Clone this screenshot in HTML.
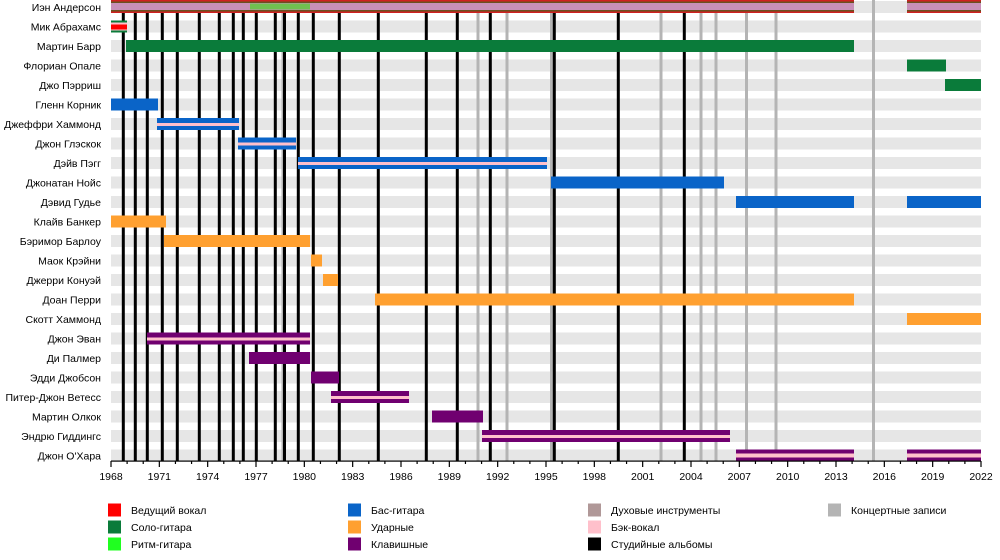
<!DOCTYPE html>
<html><head><meta charset="utf-8"><style>
body{margin:0;background:#fff;}
svg{display:block;font-family:"Liberation Sans",sans-serif;}
</style></head><body>
<svg width="1000" height="560" xmlns="http://www.w3.org/2000/svg" id="s">
</svg>
<script>
(function(){
const s=document.getElementById('s');
const NS='http://www.w3.org/2000/svg';
function el(t,a,txt){const e=document.createElementNS(NS,t);for(const k in a)e.setAttribute(k,a[k]);if(txt!==undefined)e.textContent=txt;s.appendChild(e);return e;}
const X=y=>111+(y-1968)*870/54;
const T=i=>1+19.5*i;
const names=["Иэн Андерсон","Мик Абрахамс","Мартин Барр","Флориан Опале","Джо Пэрриш","Гленн Корник","Джеффри Хаммонд","Джон Глэскок","Дэйв Пэгг","Джонатан Нойс","Дэвид Гудье","Клайв Банкер","Бэримор Барлоу","Маок Крэйни","Джерри Конуэй","Доан Перри","Скотт Хаммонд","Джон Эван","Ди Палмер","Эдди Джобсон","Питер-Джон Ветесс","Мартин Олкок","Эндрю Гиддингс","Джон О'Хара"];
names.forEach((n,i)=>{
 el('rect',{x:111,y:T(i),width:870,height:12,fill:'#e6e6e6'});
 el('text',{x:101,y:T(i)+10,'text-anchor':'end','font-size':'10.5',fill:'#000'},n);
});
[283,478,507,551.5,661,701,716,746.5,776,873.5].forEach(x=>el('rect',{x:x-1.5,y:0,width:3,height:461,fill:'#b4b4b4'}));
[123.3,135.3,147.3,162.3,177.3,199.3,219.3,233.3,243.3,256.3,275.3,284.5,298.3,313.3,339.3,378.3,426.3,457.3,490.3,554.3,618.3,684.3].forEach(x=>el('rect',{x:x-1.5,y:0,width:3,height:461,fill:'#000'}));
const G='#0a7b3a',B='#0a64c8',O='#ffa030',P='#700070',PK='#ffc0cb';
function bar(i,x1,x2,c,stripe){el('rect',{x:x1,y:T(i),width:x2-x1,height:12,fill:c});if(stripe)el('rect',{x:x1,y:T(i)+5,width:x2-x1,height:3,fill:PK});}
[[111,854],[907,981]].forEach(([a,b])=>{
 el('rect',{x:a,y:0,width:b-a,height:13,fill:'#d02020'});
 el('rect',{x:a,y:1.5,width:b-a,height:10,fill:'#6a5020'});
 el('rect',{x:a,y:3,width:b-a,height:7,fill:'#c890b8'});
});
el('rect',{x:250,y:3.5,width:60,height:6,fill:'#70c050'});
el('rect',{x:111,y:T(1),width:16,height:12,fill:G});
el('rect',{x:111,y:T(1)+2,width:16,height:8,fill:PK});
el('rect',{x:111,y:T(1)+4,width:16,height:5,fill:'#f00'});
bar(2,126,854,G);bar(3,907,946,G);bar(4,945,981,G);
bar(5,111,158,B);bar(6,157,239,B,1);bar(7,238,296,B,1);bar(8,298,547,B,1);
bar(9,551,724,B);bar(10,736,854,B);bar(10,907,981,B);
bar(11,111,166,O);bar(12,164,310,O);bar(13,311,322,O);bar(14,323,338,O);bar(15,375,854,O);bar(16,907,981,O);
bar(17,147,310,P,1);bar(18,249,310,P);bar(19,311,339,P);bar(20,331,409,P,1);bar(21,432,483,P);bar(22,482,730,P,1);
[[736,854],[907,981]].forEach(([a,b])=>{el('rect',{x:a,y:T(23),width:b-a,height:12,fill:P});el('rect',{x:a,y:T(23)+4,width:b-a,height:4,fill:PK});});
el('rect',{x:111,y:460.5,width:870,height:1.2,fill:'#000'});
for(let y=1968;y<=2022;y++){const maj=(y-1968)%3==0;el('rect',{x:X(y)-0.6,y:461,width:1.2,height:maj?6:3,fill:'#000'});
 if(maj)el('text',{x:X(y),y:480,'text-anchor':'middle','font-size':'10.5'},String(y));}
const L=[[108,510,'#f00','Ведущий вокал'],[108,527,G,'Соло-гитара'],[108,544,'#20ff20','Ритм-гитара'],
[348,510,B,'Бас-гитара'],[348,527,O,'Ударные'],[348,544,P,'Клавишные'],
[588,510,'#b09898','Духовые инструменты'],[588,527,PK,'Бэк-вокал'],[588,544,'#000','Студийные альбомы'],
[828,510,'#b4b4b4','Концертные записи']];
L.forEach(([x,y,c,t])=>{el('rect',{x:x,y:y-6.5,width:13,height:13,fill:c});el('text',{x:x+23,y:y+4,'font-size':'10.5'},t);});
})();
</script>
</body></html>
